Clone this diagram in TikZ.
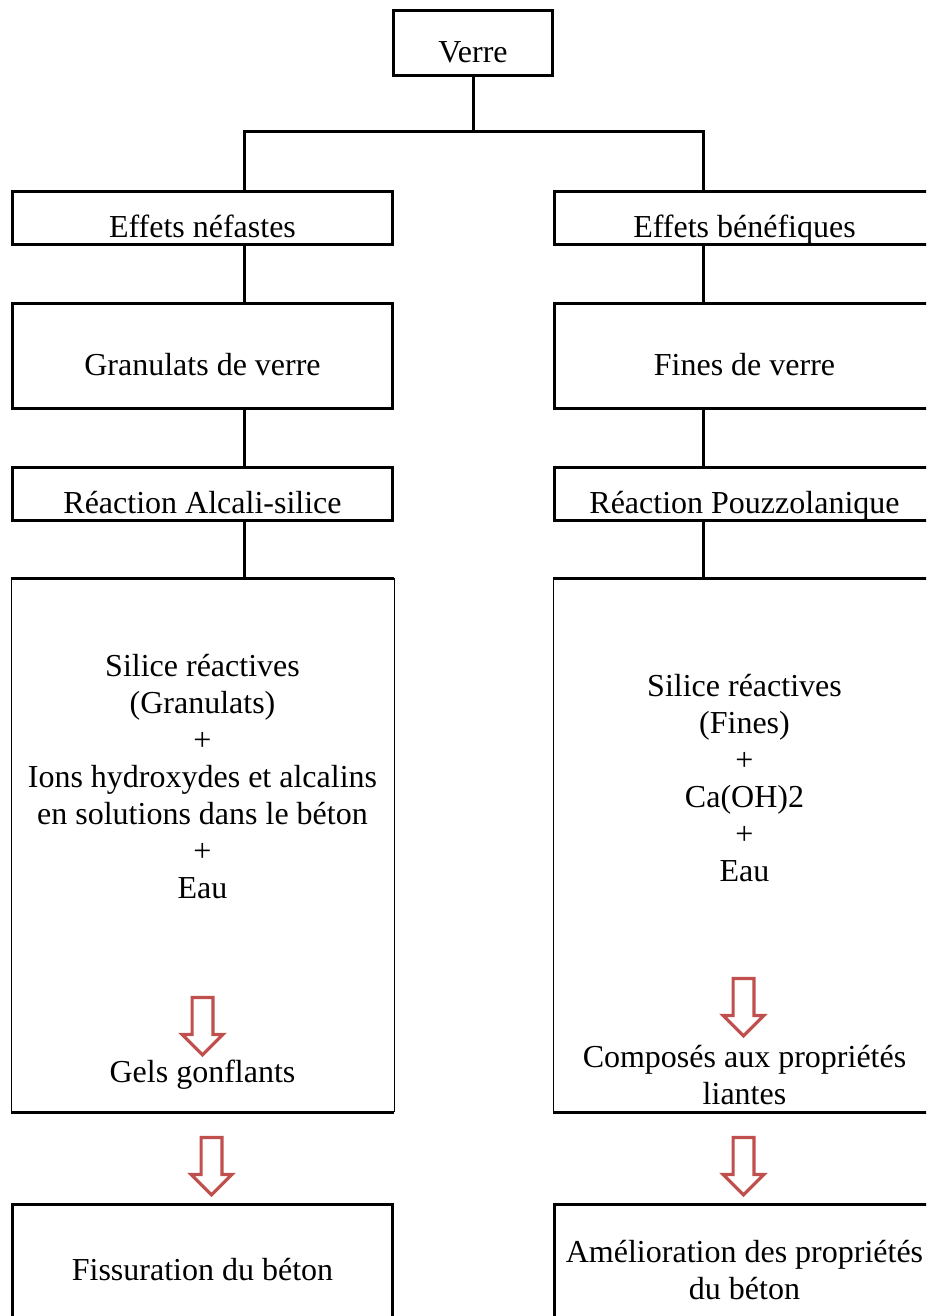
\documentclass[tikz,border=0pt]{standalone}
\usepackage{fontspec}
\setmainfont{Liberation Serif}
\usetikzlibrary{positioning,shapes.arrows}
\definecolor{arrowred}{RGB}{192,80,77}

\begin{document}
\begin{tikzpicture}[
  x=0.75pt, y=-0.75pt,
  node distance=42pt,
  font=\fontsize{24pt}{27.75pt}\selectfont,
  box/.style={rectangle, draw, line width=2.25pt, minimum width=285pt, minimum height=39.75pt, align=center, inner sep=0pt},
  oneline/.style={text height=29pt, text depth=0pt},
  tallbox/.style={box, minimum height=78.75pt},
  bottombox/.style={box, minimum height=98.25pt},
  bigbox/.style={rectangle, minimum width=287.25pt, minimum height=400.5pt, inner sep=0pt, outer sep=0pt},
  txt/.style={align=center, inner sep=0pt},
  link/.style={line width=2.25pt},
  sideline/.style={line width=0.75pt},
  hollow/.style={single arrow, draw=arrowred, fill=white, line width=2.4pt, rotate=-90, minimum height=43pt, inner xsep=0pt, inner ysep=6.6pt, single arrow head extend=7.5pt}
]
\useasboundingbox (0,0) rectangle (926,1316);
\clip (0,0) rectangle (926,1316);

\node[box, oneline, minimum width=119.25pt, minimum height=48.75pt] (verre) at (473,43) {Verre};
\node[box, oneline] (nefastes) at (202.5,218) {Effets néfastes};
\node[box, oneline, right=119.25pt of nefastes] (benefiques) {Effets bénéfiques};
\node[tallbox, oneline, below=of nefastes] (granulats) {Granulats de verre};
\node[tallbox, oneline, below=of benefiques] (fines) {Fines de verre};
\node[box, oneline, below=of granulats] (alcali) {Réaction Alcali-silice};
\node[box, oneline, below=of fines] (pouzzo) {Réaction Pouzzolanique};
\node[bigbox, below=of alcali] (reacL) {};
\node[bigbox, below=of pouzzo] (reacR) {};
\node[bottombox, below=68.25pt of reacL] (fissure) {Fissuration du béton};
\node[bottombox, below=68.25pt of reacR] (amelio) {Amélioration des propriétés\\du béton};

% contenu des grandes boites
\node[txt] (silL) at (202.5,777) {Silice réactives\\(Granulats)\\+\\Ions hydroxydes et alcalins\\en solutions dans le béton\\+\\Eau};
\node[hollow] (flecheL) at (202.5,1021) {};
\node[txt] (gels) at (202.5,1075) {Gels gonflants};
\node[txt] (silR) at (744.5,778) {Silice réactives\\(Fines)\\+\\Ca(OH)2\\+\\Eau};
\node[hollow] (flecheR) at (743.5,1002) {};
\node[txt] (composes) at (744.5,1075) {Composés aux propriétés\\liantes};
\node[hollow] (flecheLb) at (211.5,1161) {};
\node[hollow] (flecheRb) at (743.5,1161) {};

\foreach \n in {reacL,reacR} {
  \draw[sideline] (\n.north west) -- (\n.south west) (\n.north east) -- (\n.south east);
  \draw[link] (\n.north west) -- (\n.north east) (\n.south west) -- (\n.south east);
}

\draw[link] (verre.south) -- ++(0,55) -| ([xshift=31.125pt]nefastes.north);
\draw[link] (verre.south) -- ++(0,55) -| ([xshift=-31.125pt]benefiques.north);
\foreach \a/\b in {nefastes/granulats, granulats/alcali, alcali/reacL}
  \draw[link] ([xshift=31.125pt]\a.south) -- ([xshift=31.125pt]\b.north);
\foreach \a/\b in {benefiques/fines, fines/pouzzo, pouzzo/reacR}
  \draw[link] ([xshift=-31.125pt]\a.south) -- ([xshift=-31.125pt]\b.north);
\end{tikzpicture}
\end{document}
